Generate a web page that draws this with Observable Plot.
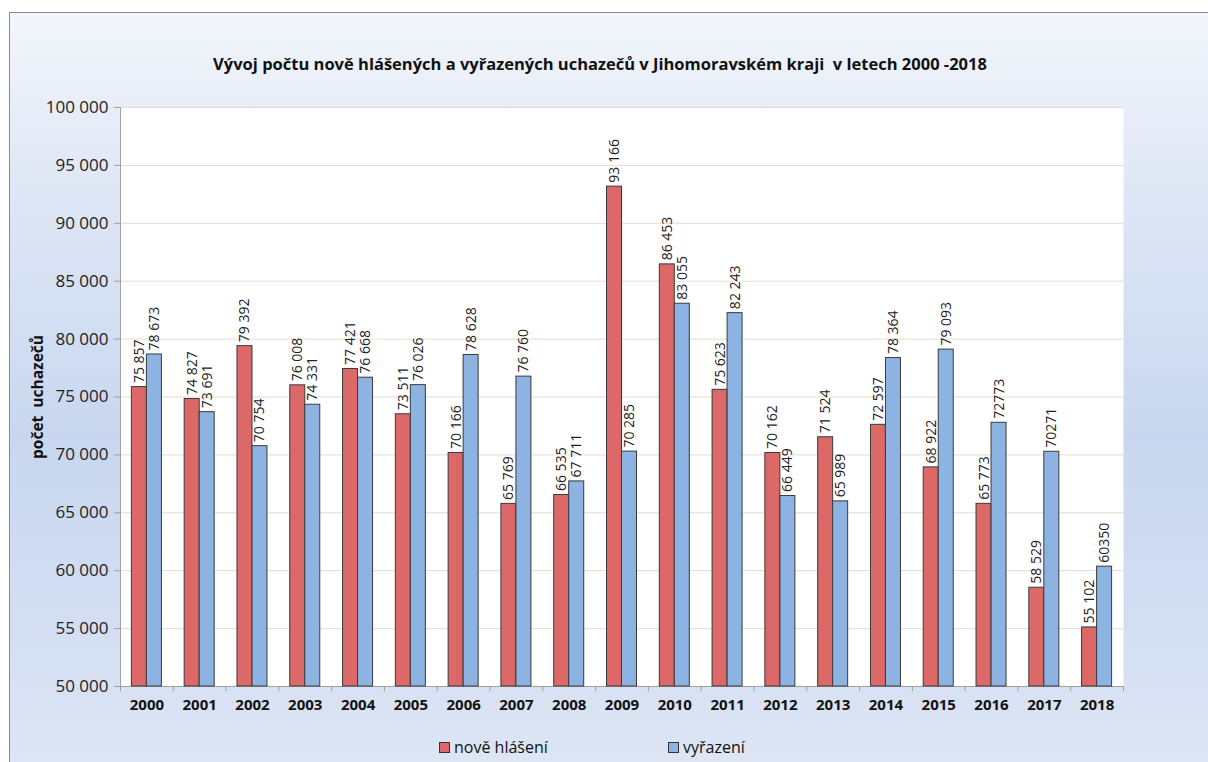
<!DOCTYPE html>
<html>
<head>
<meta charset="utf-8">
<script src="https://cdn.jsdelivr.net/npm/d3@7"></script>
<script src="https://cdn.jsdelivr.net/npm/@observablehq/plot@0.6"></script>
<style>
  html, body { margin: 0; padding: 0; background: #fff; }
  body { width: 1208px; height: 762px; overflow: hidden; position: relative; font-family: "Open Sans", sans-serif; }
  #chart { position: absolute; left: 9px; top: 12px; width: 1220px; height: 770px; border: 1px solid #8a8a8a;
    background: linear-gradient(to bottom, #f2f5fb 0%, #dde6f5 25%, #c8d7ef 55%, #d3def2 80%, #dfe7f5 100%); overflow: hidden; }
  #title { position: absolute; left: 0; top: 40px; width: 1180px; text-align: center; font-size: 16.5px; font-weight: bold; color: #111; line-height: 22px; white-space: pre; }
  #ylabel { position: absolute; left: 27px; top: 384px; transform: translate(-50%, -50%) rotate(-90deg); white-space: pre; font-size: 15.5px; font-weight: bold; color: #111; }
  #plot { position: absolute; left: 0; top: 0; }
  #legend { position: absolute; top: 723px; left: 0; width: 1180px; height: 22px; font-size: 16px; color: #111; }
  .item { position: absolute; top: 0; display: flex; align-items: center; gap: 4px; }
  .sw { width: 11px; height: 11px; border: 1px solid #333; box-sizing: border-box; }
</style>
</head>
<body>
<div id="chart">
  <div id="title">Vývoj počtu nově hlášených a vyřazených uchazečů v Jihomoravském kraji  v letech 2000 -2018</div>
  <div id="ylabel">počet  uchazečů</div>
  <div id="plot"></div>
  <div id="legend"></div>
</div>
<script>
const years = ["2000","2001","2002","2003","2004","2005","2006","2007","2008","2009","2010","2011","2012","2013","2014","2015","2016","2017","2018"];
const nove = [75857,74827,79392,76008,77421,73511,70166,65769,66535,93166,86453,75623,70162,71524,72597,68922,65773,58529,55102];
const vyrazeni = [78673,73691,70754,74331,76668,76026,78628,76760,67711,70285,83055,82243,66449,65989,78364,79093,72773,70271,60350];
const noveLabels = ["75 857","74 827","79 392","76 008","77 421","73 511","70 166","65 769","66 535","93 166","86 453","75 623","70 162","71 524","72 597","68 922","65 773","58 529","55 102"];
const vyrazeniLabels = ["78 673","73 691","70 754","74 331","76 668","76 026","78 628","76 760","67 711","70 285","83 055","82 243","66 449","65 989","78 364","79 093","72773","70271","60350"];
const seriesNames = ["nově hlášení", "vyřazení"];
const colors = ["#dc6868", "#8db3e2"];
const yTicks = d3.range(50000, 100001, 5000);

const W = 1198, H = 720, ML = 110, MR = 85, MT = 94, MB = 47;
const bw = (W - ML - MR) / years.length;
const barW = 15;

const rowsN = years.map((y, i) => ({year: y, value: nove[i], label: noveLabels[i]}));
const rowsV = years.map((y, i) => ({year: y, value: vyrazeni[i], label: vyrazeniLabels[i]}));
const fmt = d => d3.format(",")(d).replace(/,/g, " ");

const chart = Plot.plot({
  width: W, height: H,
  marginLeft: ML, marginRight: MR, marginTop: MT, marginBottom: MB,
  style: {background: "transparent", fontFamily: "'Open Sans', sans-serif", fontSize: "13px", color: "#222", overflow: "visible"},
  x: {domain: years, padding: 0, round: false},
  y: {domain: [50000, 100000]},
  marks: [
    Plot.frame({fill: "white", stroke: "none"}),
    Plot.ruleY(yTicks.slice(1), {stroke: "#e4ddcc", strokeWidth: 1}),
    Plot.ruleY([50000], {stroke: "#a0a0a0"}),
    Plot.ruleX(["2000"], {dx: -bw / 2, stroke: "#a0a0a0"}),
    Plot.ruleX(years, {dx: -bw / 2, y1: 50000, y2: 49550, stroke: "#a0a0a0"}),
    Plot.ruleX(["2018"], {dx: bw / 2, y1: 50000, y2: 49550, stroke: "#a0a0a0"}),
    Plot.barY(rowsN, {x: "year", y1: 50000, y2: "value", fill: colors[0], stroke: "#3a3a3a", strokeWidth: 1,
      insetLeft: bw / 2 - barW, insetRight: bw / 2}),
    Plot.barY(rowsV, {x: "year", y1: 50000, y2: "value", fill: colors[1], stroke: "#3a3a3a", strokeWidth: 1,
      insetLeft: bw / 2, insetRight: bw / 2 - barW}),
    Plot.text(rowsN, {x: "year", y: "value", text: "label", rotate: -90, textAnchor: "start", dx: -barW / 2, dy: -4, fontSize: 14, fill: "#222"}),
    Plot.text(rowsV, {x: "year", y: "value", text: "label", rotate: -90, textAnchor: "start", dx: barW / 2, dy: -4, fontSize: 14, fill: "#222"}),
    Plot.axisY({ticks: yTicks, tickFormat: fmt, tickSize: 6, tickPadding: 6, stroke: "#a0a0a0", fill: "#222", fontSize: 17, label: null}),
    Plot.axisX({tickSize: 0, tickPadding: 13, fontSize: 15, fontWeight: "bold", fill: "#111", label: null})
  ]
});
document.getElementById("plot").appendChild(chart);

const legend = document.getElementById("legend");
const lx = [429, 658];
seriesNames.forEach((n, i) => {
  const it = document.createElement("div");
  it.className = "item";
  it.style.left = lx[i] + "px";
  it.innerHTML = `<span class="sw" style="background:${colors[i]}"></span><span>${n}</span>`;
  legend.appendChild(it);
});
</script>
</body>
</html>
